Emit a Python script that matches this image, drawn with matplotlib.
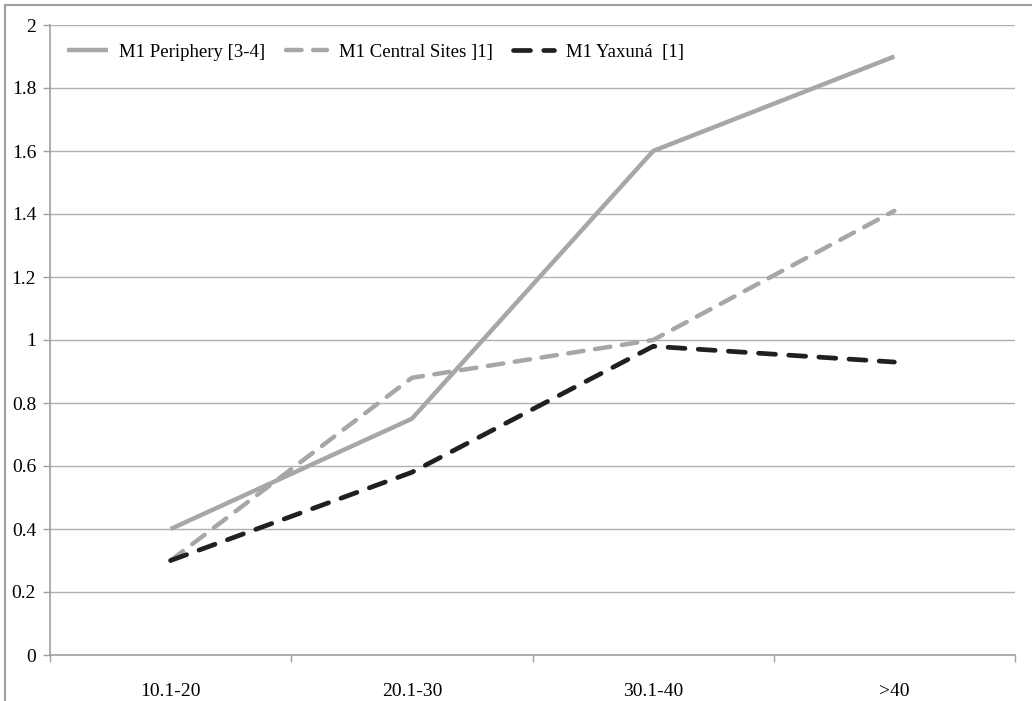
import matplotlib
matplotlib.use("Agg")
import matplotlib.pyplot as plt
from matplotlib.lines import Line2D

categories = ["10.1-20", "20.1-30", "30.1-40", ">40"]
periphery = [0.40, 0.75, 1.60, 1.90]
central = [0.30, 0.88, 1.00, 1.41]
yaxuna = [0.30, 0.58, 0.98, 0.93]
labels = ["M1 Periphery [3-4]", "M1 Central Sites ]1]", "M1 Yaxuná  [1]"]
yticks = [0, 0.2, 0.4, 0.6, 0.8, 1, 1.2, 1.4, 1.6, 1.8, 2]

plt.rcParams['font.family'] = ['Liberation Serif', 'DejaVu Serif']

fig = plt.figure(figsize=(10.32, 7.01), dpi=100)
ax = fig.add_axes([50/1032, 1-655/701, (1015-50)/1032, (655-25)/701])

x = list(range(len(categories)))
grey = "#a7a7a9"
ax.plot(x, periphery, color=grey, lw=3.2, solid_capstyle='butt', label=labels[0])
ax.plot(x, central, color=grey, lw=3.2, dashes=(3.5, 2.6), dash_capstyle='round', label=labels[1])
ax.plot(x, yaxuna, color="#231f20", lw=3.4, dashes=(3.6, 2.8), dash_capstyle='round', label=labels[2])

ax.set_xlim(-0.5, 3.5)
ax.set_ylim(0, 2)
ax.set_yticks(yticks)
ax.set_yticklabels([("%g" % v) for v in yticks])
ax.set_xticks(x)
ax.set_xticklabels(categories)
ax.set_xticks([-0.5, 0.5, 1.5, 2.5, 3.5], minor=True)
ax.tick_params(axis='x', which='major', length=0, pad=20, labelsize=14)
ax.tick_params(axis='x', which='minor', length=5, color="#a0a0a0", width=1)
ax.tick_params(axis='y', length=5, color="#a0a0a0", width=1, labelsize=14, pad=5)

for yv in yticks[1:]:
    ax.axhline(yv, color="#b0b0b4", lw=1.0, zorder=0)
for s in ['top', 'right']:
    ax.spines[s].set_visible(False)
ax.spines['left'].set_color("#a0a0a0")
ax.spines['bottom'].set_color("#a0a0a0")
ax.spines['left'].set_linewidth(1.2)
ax.spines['bottom'].set_linewidth(1.2)

leg = ax.legend(loc='upper left', ncol=3, frameon=False, fontsize=13.5,
                bbox_to_anchor=(0.0, 0.997), handlelength=2.2, columnspacing=1.1,
                handletextpad=0.6)

# figure border (top and left visible)
fig.add_artist(Line2D([5/1032, 1], [1-5/701, 1-5/701], transform=fig.transFigure, color="#a0a0a0", lw=1.5))
fig.add_artist(Line2D([5/1032, 5/1032], [0, 1-5/701], transform=fig.transFigure, color="#a0a0a0", lw=1.5))

fig.savefig("out.png", dpi=100)
